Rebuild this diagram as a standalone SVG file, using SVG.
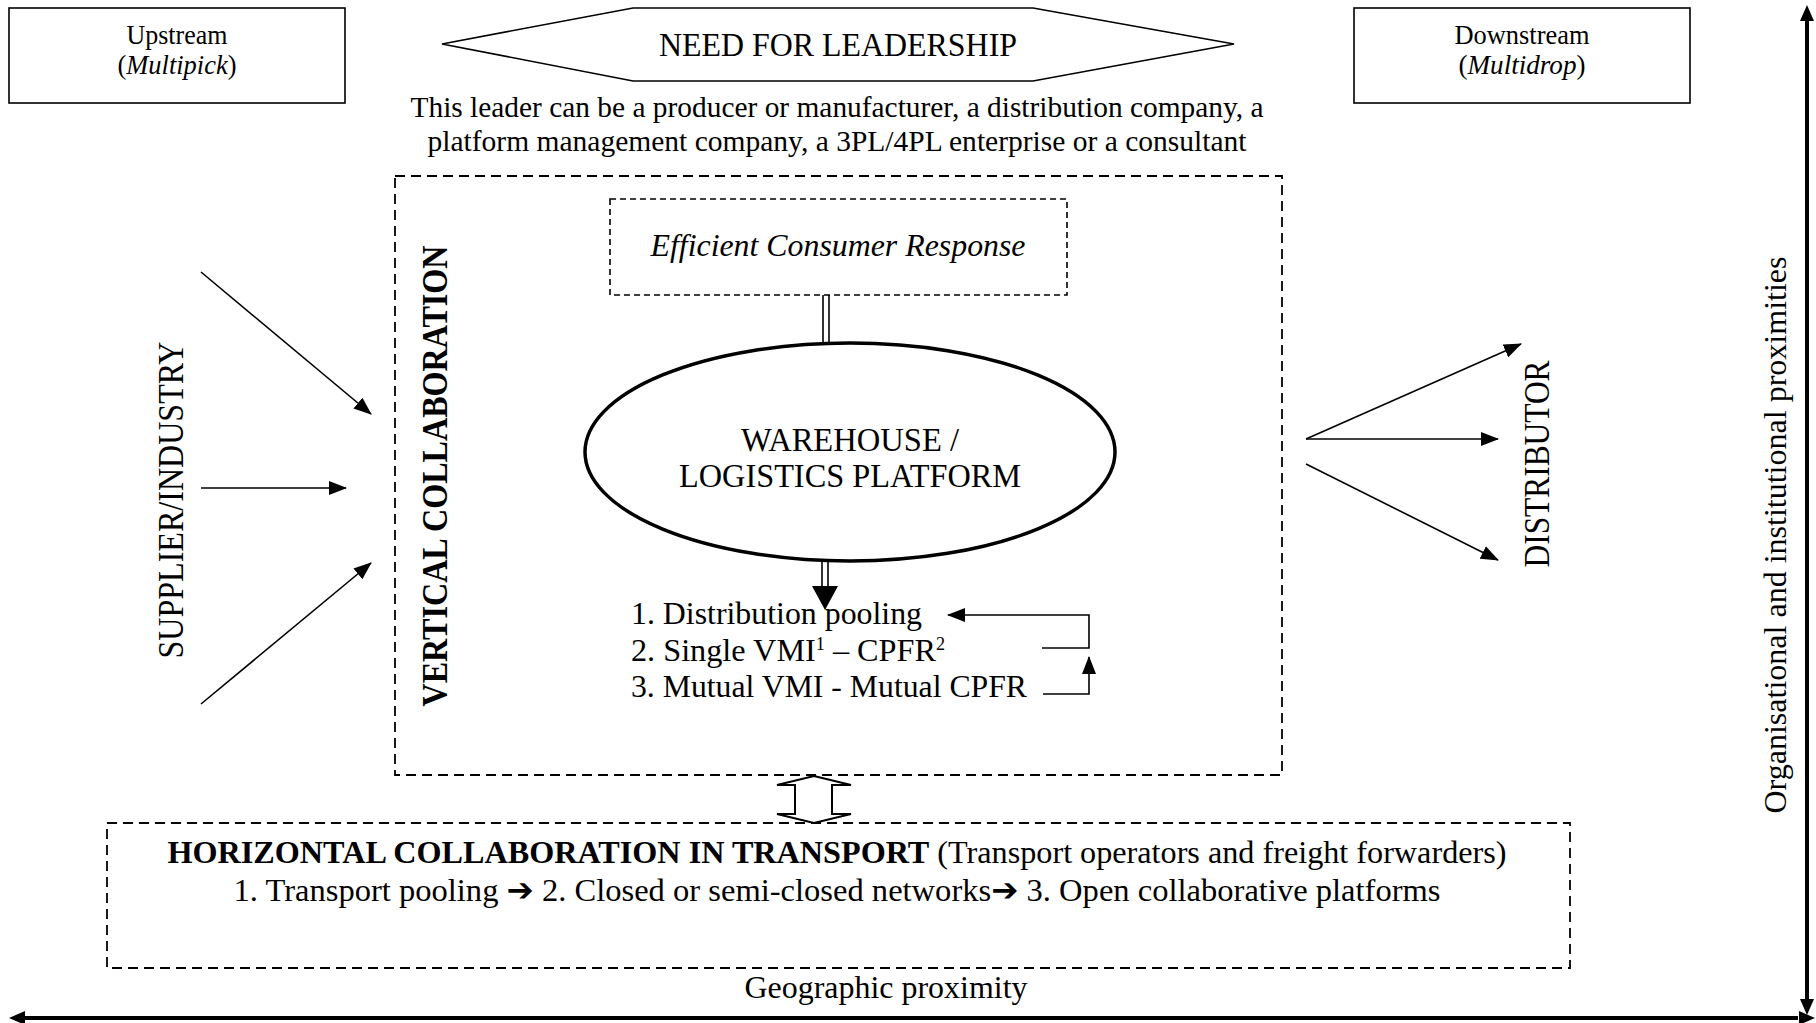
<svg xmlns="http://www.w3.org/2000/svg" width="1816" height="1023" viewBox="0 0 1816 1023">
<style>
text{font-family:"Liberation Serif","DejaVu Serif",serif;fill:#000}
.box{fill:none;stroke:#000;stroke-width:1.6}
.dash{fill:none;stroke:#000;stroke-width:1.8;stroke-dasharray:10 6}
.dash2{fill:none;stroke:#000;stroke-width:1.6;stroke-dasharray:6 4}
.ln{fill:none;stroke:#000;stroke-width:1.6}
.ax{fill:none;stroke:#000;stroke-width:4}
</style>
<defs>
<marker id="ah" markerUnits="userSpaceOnUse" markerWidth="18" markerHeight="14" refX="17" refY="7" orient="auto"><path d="M0,0 L18,7 L0,14 z" fill="#000"/></marker>
</defs>
<rect width="1816" height="1023" fill="#fff"/>

<g id="upstream">
<rect class="box" x="9" y="8" width="336" height="95"/>
<text x="177" y="44" font-size="27" text-anchor="middle" textLength="101" lengthAdjust="spacingAndGlyphs">Upstream</text>
<text x="177" y="74" font-size="27" text-anchor="middle" textLength="119" lengthAdjust="spacingAndGlyphs">(<tspan font-style="italic">Multipick</tspan>)</text>
</g>

<g id="downstream">
<rect class="box" x="1354" y="8" width="336" height="95"/>
<text x="1522" y="44" font-size="27" text-anchor="middle" textLength="135" lengthAdjust="spacingAndGlyphs">Downstream</text>
<text x="1522" y="74" font-size="27" text-anchor="middle" textLength="127" lengthAdjust="spacingAndGlyphs">(<tspan font-style="italic">Multidrop</tspan>)</text>
</g>

<g id="leadership">
<polygon class="box" points="442,44 633,8 1033,8 1234,44 1033,81 633,81"/>
<text x="838" y="56" font-size="33" text-anchor="middle" textLength="358" lengthAdjust="spacingAndGlyphs">NEED FOR LEADERSHIP</text>
</g>

<g id="leader-note">
<text x="837" y="117" font-size="30" text-anchor="middle" textLength="853" lengthAdjust="spacingAndGlyphs">This leader can be a producer or manufacturer, a distribution company, a</text>
<text x="837" y="151" font-size="30" text-anchor="middle" textLength="819" lengthAdjust="spacingAndGlyphs">platform management company, a 3PL/4PL enterprise or a consultant</text>
</g>

<g id="vertical-collaboration">
<rect class="dash" x="395" y="176" width="887" height="599"/>
<text transform="translate(447,476) rotate(-90)" font-size="36" font-weight="bold" text-anchor="middle" textLength="461" lengthAdjust="spacingAndGlyphs">VERTICAL COLLABORATION</text>
</g>

<g id="ecr">
<rect class="dash2" x="610" y="199" width="457" height="96"/>
<text x="838" y="256" font-size="32" font-style="italic" text-anchor="middle" textLength="375" lengthAdjust="spacingAndGlyphs">Efficient Consumer Response</text>
</g>

<g id="warehouse">
<ellipse cx="850" cy="452" rx="265" ry="109" fill="none" stroke="#000" stroke-width="3.5"/>
<text x="850" y="451" font-size="34" text-anchor="middle" textLength="218" lengthAdjust="spacingAndGlyphs">WAREHOUSE /</text>
<text x="850" y="487" font-size="34" text-anchor="middle" textLength="342" lengthAdjust="spacingAndGlyphs">LOGISTICS PLATFORM</text>
</g>

<g id="stages">
<text x="631" y="624" font-size="32" textLength="291" lengthAdjust="spacingAndGlyphs">1. Distribution pooling</text>
<text x="631" y="661" font-size="32" textLength="314" lengthAdjust="spacingAndGlyphs">2. Single VMI<tspan font-size="18" dy="-11">1</tspan><tspan dy="11"> – CPFR</tspan><tspan font-size="18" dy="-11">2</tspan></text>
<text x="631" y="697" font-size="32" textLength="396" lengthAdjust="spacingAndGlyphs">3. Mutual VMI - Mutual CPFR</text>
</g>

<g id="supplier">
<text transform="translate(183,500) rotate(-90)" font-size="35" text-anchor="middle" textLength="317" lengthAdjust="spacingAndGlyphs">SUPPLIER/INDUSTRY</text>
</g>

<g id="distributor">
<text transform="translate(1549,464) rotate(-90)" font-size="35" text-anchor="middle" textLength="207" lengthAdjust="spacingAndGlyphs">DISTRIBUTOR</text>
</g>

<g id="horizontal-collaboration">
<rect class="dash" x="107" y="823" width="1463" height="145"/>
<text x="837" y="863" font-size="32" text-anchor="middle" textLength="1339" lengthAdjust="spacingAndGlyphs"><tspan font-weight="bold">HORIZONTAL COLLABORATION IN TRANSPORT</tspan> (Transport operators and freight forwarders)</text>
<text x="837" y="901" font-size="32" text-anchor="middle" textLength="1207" lengthAdjust="spacingAndGlyphs">1. Transport pooling <tspan font-family="DejaVu Sans, sans-serif">➔</tspan> 2. Closed or semi-closed networks<tspan font-family="DejaVu Sans, sans-serif">➔</tspan> 3. Open collaborative platforms</text>
</g>

<g id="axes-labels">
<text x="886" y="998" font-size="31" text-anchor="middle" textLength="283" lengthAdjust="spacingAndGlyphs">Geographic proximity</text>
<text transform="translate(1786,535) rotate(-90)" font-size="32" text-anchor="middle" textLength="557" lengthAdjust="spacingAndGlyphs">Organisational and institutional proximities</text>
</g>

<g id="connectors">
<line class="ln" x1="201" y1="272" x2="371" y2="414" marker-end="url(#ah)"/>
<line class="ln" x1="201" y1="488" x2="346" y2="488" marker-end="url(#ah)"/>
<line class="ln" x1="201" y1="704" x2="371" y2="563" marker-end="url(#ah)"/>
<line class="ln" x1="1306" y1="439" x2="1521" y2="344" marker-end="url(#ah)"/>
<line class="ln" x1="1306" y1="439" x2="1498" y2="439" marker-end="url(#ah)"/>
<line class="ln" x1="1306" y1="464" x2="1498" y2="560" marker-end="url(#ah)"/>
<line class="ln" x1="823" y1="295" x2="823" y2="343"/>
<line class="ln" x1="829" y1="295" x2="829" y2="343"/>
<line class="ln" x1="822" y1="561" x2="822" y2="588"/>
<line class="ln" x1="828" y1="561" x2="828" y2="588"/>
<polygon points="812,586 838,586 825,610" fill="#000"/>
<path class="ln" d="M1042,648 H1089 V615 H948" marker-end="url(#ah)"/>
<path class="ln" d="M1043,694 H1089 V657" marker-end="url(#ah)"/>
<polygon points="814,776 851,785 832,785 832,814 851,814 814,823 777,814 795,814 795,785 777,785" fill="#fff" stroke="#000" stroke-width="2"/>
<line class="ax" x1="24" y1="1018" x2="1798" y2="1018"/>
<path d="M9,1018 L25,1011 L25,1025 z" fill="#000"/>
<path d="M1815,1018 L1799,1011 L1799,1025 z" fill="#000"/>
<line class="ax" x1="1807" y1="20" x2="1807" y2="1000"/>
<path d="M1807,5 L1800,21 L1814,21 z" fill="#000"/>
<path d="M1807,1015 L1800,999 L1814,999 z" fill="#000"/>
</g>
</svg>
